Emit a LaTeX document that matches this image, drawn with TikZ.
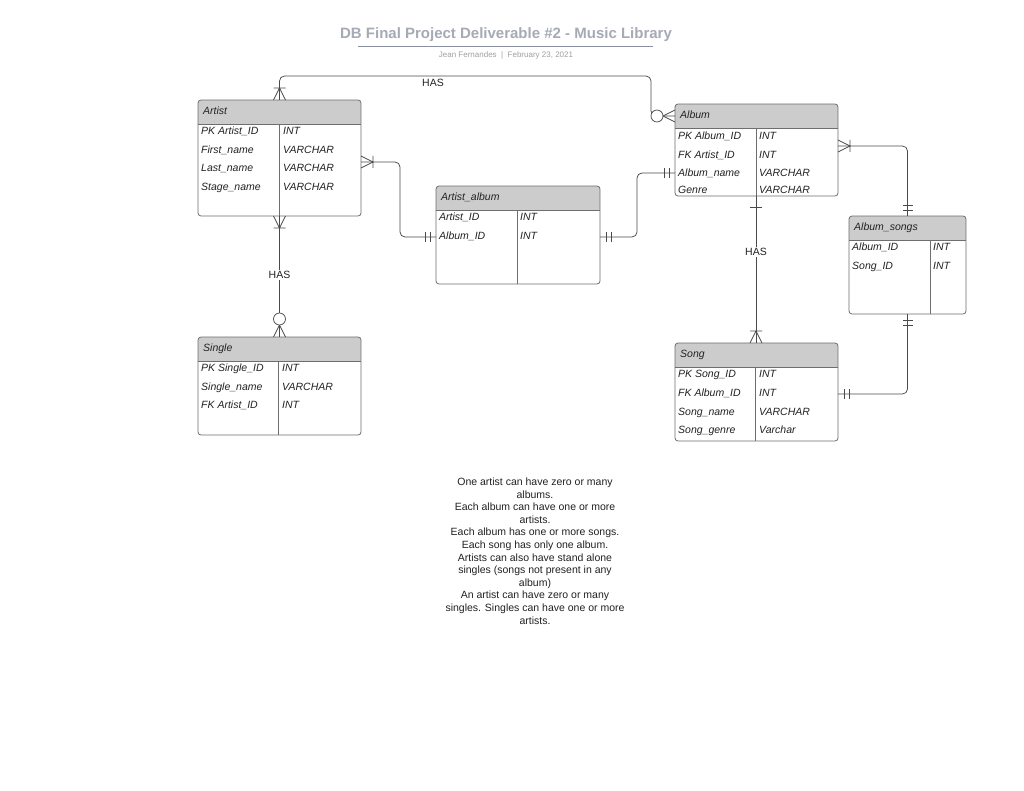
\documentclass[tikz,border=0pt]{standalone}
\usepackage{fontspec}
\setmainfont{Liberation Sans}
\usetikzlibrary{calc,fit}
\definecolor{hdr}{HTML}{CCCCCC}
\definecolor{bord}{HTML}{6E6E6E}
\definecolor{ln}{HTML}{4A4A4A}
\definecolor{ttl}{HTML}{A5AAB5}
\definecolor{ttlline}{HTML}{8A90A0}
\definecolor{sub}{HTML}{A0A0A0}
\definecolor{txt}{HTML}{222222}
\newcommand\erdbox[7]{%
  \begin{scope}
    \clip[rounded corners=3pt] (#2,#3) rectangle (#4,#5);
    \fill[hdr] (#2,#3) rectangle (#4,{#3+24});
  \end{scope}
  \node[tbl, fit={(#2,#3) (#4,#5)}] (#1) {};
  \draw[bord, line width=0.8pt] (#2,{#3+24}) -- (#4,{#3+24});
  \draw[bord, line width=0.8pt] (#6,{#3+24}) -- (#6,#5);
  \node[fld] (#1-title) at ({#2+5},{#3+11}) {#7};
}
\tikzset{
  onemany/.pic={\draw[conn] (0,-6) -- (12,0) -- (0,6) (12,-6) -- (12,6);},
  zeromany/.pic={\draw[conn] (0,-6) -- (12,0) -- (0,6); \draw[conn, fill=white] (18,0) circle (6);},
  onlyone/.pic={\draw[conn] (6,-5) -- (6,5) (11,-5) -- (11,5);},
  justone/.pic={\draw[conn] (11,-6) -- (11,6);}
}
\begin{document}
\begin{tikzpicture}[x=1pt,y=-1pt,
  conn/.style={draw=ln, line width=0.75pt},
  tbl/.style={draw=bord, line width=0.8pt, rounded corners=3pt, inner sep=0pt, outer sep=0pt},
  fld/.style={anchor=west, inner sep=0pt, text height=9pt, text depth=1.5pt, text=txt, font=\itshape\fontsize{10.5}{12}\selectfont},
  lbl/.style={inner sep=1pt, text=txt, font=\fontsize{10.5}{12}\selectfont}]
\useasboundingbox (0,0) rectangle (1024,791);
\fill[white] (0,0) rectangle (1024,791);

% title
\node[text=ttl, font=\bfseries\fontsize{15}{18}\selectfont] (title) at (506,35) {DB Final Project Deliverable \#2 - Music Library};
\draw[ttlline, line width=0.7pt] (358,46) -- (653,46);
\node[text=sub, font=\fontsize{8}{10}\selectfont] (subtitle) at (506,55) {Jean Fernandes~~|~~February 23, 2021};

% tables
\erdbox{artist}{198}{100}{361}{216}{279}{Artist}
\node[fld] (artist-1a) at (201,131) {PK Artist\_ID};
\node[fld] (artist-1b) at (283,131) {INT};
\node[fld] (artist-2a) at (201,149.5) {First\_name};
\node[fld] (artist-2b) at (283,149.5) {VARCHAR};
\node[fld] (artist-3a) at (201,168) {Last\_name};
\node[fld] (artist-3b) at (283,168) {VARCHAR};
\node[fld] (artist-4a) at (201,187) {Stage\_name};
\node[fld] (artist-4b) at (283,187) {VARCHAR};

\erdbox{album}{675}{104}{838}{196}{756}{Album}
\node[fld] (album-1a) at (678,136) {PK Album\_ID};
\node[fld] (album-1b) at (759,136) {INT};
\node[fld] (album-2a) at (678,154.5) {FK Artist\_ID};
\node[fld] (album-2b) at (759,154.5) {INT};
\node[fld] (album-3a) at (678,173) {Album\_name};
\node[fld] (album-3b) at (759,173) {VARCHAR};
\node[fld] (album-4a) at (678,190) {Genre};
\node[fld] (album-4b) at (759,190) {VARCHAR};

\erdbox{aa}{436}{186}{600}{284}{517}{Artist\_album}
\node[fld] (aa-1a) at (439,217) {Artist\_ID};
\node[fld] (aa-1b) at (520,217) {INT};
\node[fld] (aa-2a) at (439,236) {Album\_ID};
\node[fld] (aa-2b) at (520,236) {INT};

\erdbox{as}{849}{216}{966}{314}{930}{Album\_songs}
\node[fld] (as-1a) at (852,247) {Album\_ID};
\node[fld] (as-1b) at (933,247) {INT};
\node[fld] (as-2a) at (852,266) {Song\_ID};
\node[fld] (as-2b) at (933,266) {INT};

\erdbox{single}{198}{337}{361}{435}{278}{Single}
\node[fld] (single-1a) at (201,368) {PK Single\_ID};
\node[fld] (single-1b) at (282,368) {INT};
\node[fld] (single-2a) at (201,387) {Single\_name};
\node[fld] (single-2b) at (282,387) {VARCHAR};
\node[fld] (single-3a) at (201,405) {FK Artist\_ID};
\node[fld] (single-3b) at (282,405) {INT};

\erdbox{song}{675}{343}{838}{441}{755}{Song}
\node[fld] (song-1a) at (678,374) {PK Song\_ID};
\node[fld] (song-1b) at (759,374) {INT};
\node[fld] (song-2a) at (678,393) {FK Album\_ID};
\node[fld] (song-2b) at (759,393) {INT};
\node[fld] (song-3a) at (678,411.5) {Song\_name};
\node[fld] (song-3b) at (759,411.5) {VARCHAR};
\node[fld] (song-4a) at (678,430) {Song\_genre};
\node[fld] (song-4b) at (759,430) {Varchar};

% connection points
\coordinate (p-art-top) at (artist.north);
\coordinate (p-art-right) at ($(artist.north east)+(0,62)$);
\coordinate (p-art-bot) at (artist.south);
\coordinate (p-aa-left) at ($(aa.north west)+(0,51)$);
\coordinate (p-aa-right) at ($(aa.north east)+(0,51)$);
\coordinate (p-alb-left1) at ($(album.north west)+(0,12)$);
\coordinate (p-alb-left2) at ($(album.north west)+(0,69)$);
\coordinate (p-alb-right) at ($(album.north east)+(0,42)$);
\coordinate (p-alb-bot) at ($(album.south west)+(81,0)$);
\coordinate (p-as-top) at (as.north);
\coordinate (p-as-bot) at (as.south);
\coordinate (p-single-top) at (single.north);
\coordinate (p-song-top) at ($(song.north west)+(81,0)$);
\coordinate (p-song-right) at ($(song.north east)+(0,51)$);

% connectors
\draw[conn, rounded corners=5pt] (p-art-top) |- ($(p-alb-left1)+(-24,-40)$) |- (p-alb-left1);
\draw[conn, rounded corners=5pt] (p-art-right) -| ($(p-aa-left)+(-36,0)$) -- (p-aa-left);
\draw[conn, rounded corners=5pt] (p-aa-right) -| ($(p-alb-left2)+(-38,0)$) -- (p-alb-left2);
\draw[conn, rounded corners=5pt] (p-alb-right) -| (p-as-top);
\draw[conn] (p-alb-bot) -- (p-song-top);
\draw[conn, rounded corners=5pt] (p-as-bot) |- (p-song-right);
\draw[conn] (p-art-bot) -- (p-single-top);

% end markers
\pic[rotate=90] at (p-art-top) {onemany};
\pic[rotate=180] at (p-alb-left1) {zeromany};
\pic[rotate=0] at (p-art-right) {onemany};
\pic[rotate=180] at (p-aa-left) {onlyone};
\pic[rotate=0] at (p-aa-right) {onlyone};
\pic[rotate=180] at (p-alb-left2) {onlyone};
\pic[rotate=0] at (p-alb-right) {onemany};
\pic[rotate=90] at (p-as-top) {onlyone};
\pic[rotate=-90] at (p-alb-bot) {justone};
\pic[rotate=90] at (p-song-top) {onemany};
\pic[rotate=-90] at (p-as-bot) {onlyone};
\pic[rotate=0] at (p-song-right) {onlyone};
\pic[rotate=-90] at (p-art-bot) {onemany};
\pic[rotate=90] at (p-single-top) {zeromany};

% labels
\node[lbl] (has1) at (433,83) {HAS};
\node[lbl, fill=white] (has2) at (279.5,275) {HAS};
\node[lbl, fill=white] (has3) at (756,252) {HAS};

% notes
\node[lbl, align=center, font=\fontsize{10.5}{12.6}\selectfont] (notes) at (535,551) {One artist can have zero or many\\albums.\\Each album can have one or more\\artists.\\Each album has one or more songs.\\Each song has only one album.\\Artists can also have stand alone\\singles (songs not present in any\\album)\\An artist can have zero or many\\singles. Singles can have one or more\\artists.};
\end{tikzpicture}
\end{document}
